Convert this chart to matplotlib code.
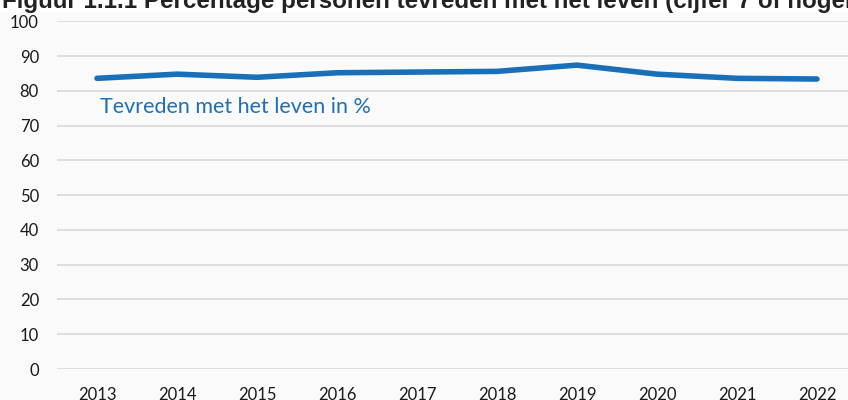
import matplotlib
matplotlib.use("Agg")
import matplotlib.pyplot as plt
from matplotlib.patches import Rectangle

years = ["2013", "2014", "2015", "2016", "2017", "2018", "2019", "2020", "2021", "2022"]
satisfied = [83.6, 84.8, 83.9, 85.2, 85.4, 85.6, 87.4, 84.8, 83.6, 83.4]
yticks = [0, 10, 20, 30, 40, 50, 60, 70, 80, 90, 100]
title = "Figuur 1.1.1 Percentage personen tevreden met het leven (cijfer 7 of hoger)"
series_label = "Tevreden met het leven in %"

W, H = 848, 400
fig = plt.figure(figsize=(W / 100, H / 100), dpi=100, facecolor="#fafafa")

# white strip with the (cut-off) title at the top
fig.patches.append(Rectangle((0, 1 - 12 / H), 1, 12 / H, transform=fig.transFigure,
                             facecolor="white", edgecolor="none", zorder=0))
fig.text(2 / W, 1 - 8 / H, title, fontsize=17.4, fontweight="bold",
         family="Liberation Sans", color="#222222", va="baseline", ha="left")

left = 57 / W
right = 857 / W
bottom = 1 - 369 / H
top = 1 - 21.3 / H
ax = fig.add_axes([left, bottom, right - left, top - bottom])
ax.set_facecolor("none")

x = list(range(len(years)))
ax.plot(x, satisfied, color="#1a70b8", lw=4.0, solid_capstyle="round",
        solid_joinstyle="round", zorder=3, clip_on=False)

ax.set_xlim(-0.5, len(years) - 0.5)
ax.set_ylim(0, 100)
ax.set_yticks(yticks)
ax.set_yticklabels([str(v) for v in yticks])
ax.set_xticks(x)
ax.set_xticklabels(years)
ax.grid(axis="y", color="#d9d9d9", lw=1.2)
ax.set_axisbelow(True)
for s in ax.spines.values():
    s.set_visible(False)
ax.tick_params(axis="both", length=0, labelsize=12, labelcolor="#1a1a1a")
ax.tick_params(axis="y", pad=13)
ax.tick_params(axis="x", pad=13)
for lab in ax.get_xticklabels() + ax.get_yticklabels():
    lab.set_family("Lato")

ax.text(0.0, 80 - (113.3 - 90.7) / 3.47, series_label, color="#1f6fb5", fontsize=15.5,
        family="Lato", ha="left", va="baseline",
        transform=ax.transData).set_x(-0.5 + (100 - 57) / 80)

fig.savefig("out.png", dpi=100, facecolor=fig.get_facecolor())
